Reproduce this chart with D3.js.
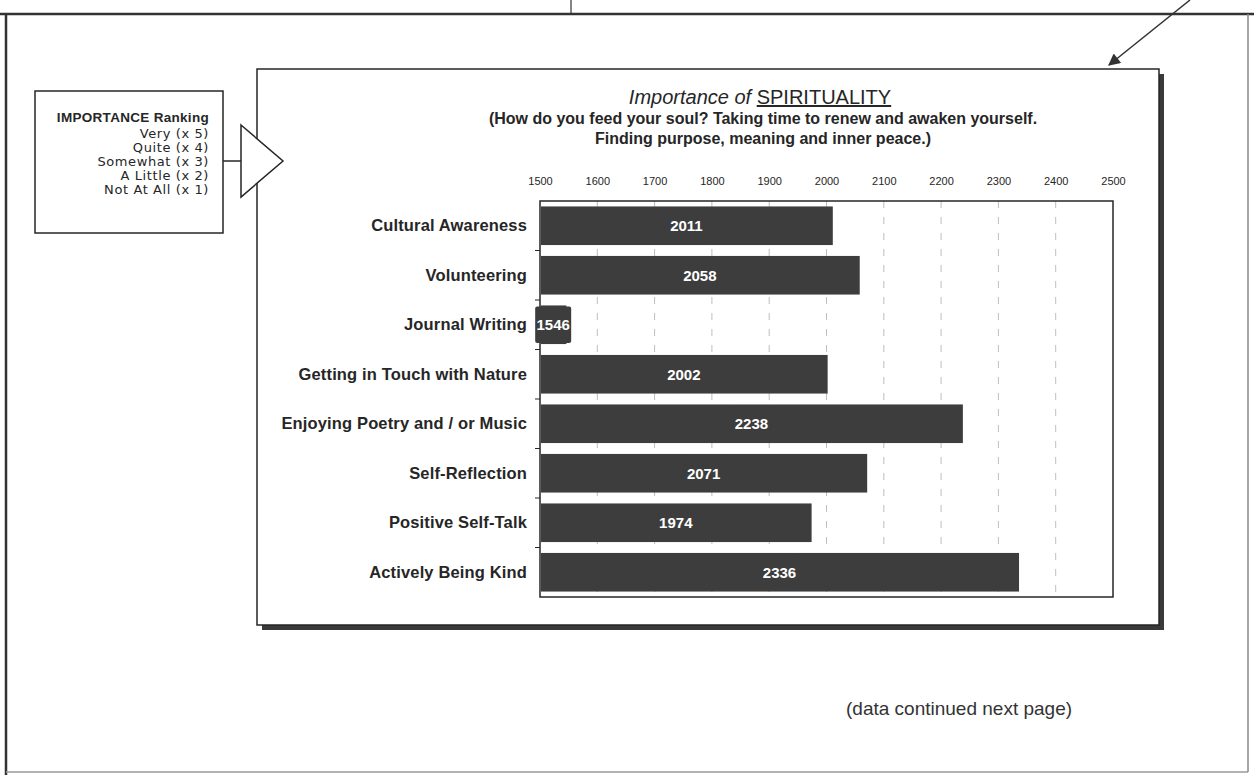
<!DOCTYPE html>
<html>
<head>
<meta charset="utf-8">
<script src="https://cdn.jsdelivr.net/npm/d3@7"></script>
<style>
  body { margin: 0; background: #fff; }
  svg { display: block; }
</style>
</head>
<body>
<svg id="chart" width="1254" height="775"></svg>
<script>
// Weighted importance scores (sum of responses x weight)
const categories = [
  "Cultural Awareness",
  "Volunteering",
  "Journal Writing",
  "Getting in Touch with Nature",
  "Enjoying Poetry and / or Music",
  "Self-Reflection",
  "Positive Self-Talk",
  "Actively Being Kind"
];
const scores = [2011, 2058, 1546, 2002, 2238, 2071, 1974, 2336];
const tickValues = [1500, 1600, 1700, 1800, 1900, 2000, 2100, 2200, 2300, 2400, 2500];
const rankingTitle = "IMPORTANCE Ranking";
const rankingLines = ["Very (x 5)", "Quite (x 4)", "Somewhat (x 3)", "A Little (x 2)", "Not At All (x 1)"];
const footNote = "(data continued next page)";

const svg = d3.select("#chart");
const ink = "#262626";
const barFill = "#3d3d3d";
const sans = "'Liberation Sans', Arial, Helvetica, sans-serif";
const casual = "'Comic Sans MS', 'DejaVu Sans', sans-serif";

// ---- page border with the pointer lines along the top ----
const page = svg.append("g");
page.append("line").attr("x1", 0).attr("x2", 1254).attr("y1", 14).attr("y2", 14)
  .attr("stroke", "#333").attr("stroke-width", 2.5);
page.append("line").attr("x1", 6).attr("x2", 6).attr("y1", 14).attr("y2", 775)
  .attr("stroke", "#333").attr("stroke-width", 2.5);
page.append("line").attr("x1", 1248).attr("x2", 1248).attr("y1", 14).attr("y2", 772)
  .attr("stroke", "#888").attr("stroke-width", 1.5);
page.append("line").attr("x1", 6).attr("x2", 1248).attr("y1", 772).attr("y2", 772)
  .attr("stroke", "#999").attr("stroke-width", 1.5);
page.append("line").attr("x1", 571).attr("x2", 571).attr("y1", 0).attr("y2", 14)
  .attr("stroke", "#333").attr("stroke-width", 1.2);

svg.append("defs").append("marker")
  .attr("id", "arrowHead").attr("viewBox", "0 0 10 10")
  .attr("refX", 9).attr("refY", 5)
  .attr("markerWidth", 10).attr("markerHeight", 8).attr("orient", "auto")
  .append("path").attr("d", "M0,0 L10,5 L0,10 z").attr("fill", "#333");
page.append("line").attr("x1", 1190).attr("y1", 0).attr("x2", 1109).attr("y2", 65)
  .attr("stroke", "#333").attr("stroke-width", 1.5)
  .attr("marker-end", "url(#arrowHead)");

// ---- ranking legend box ----
const legend = svg.append("g");
legend.append("rect").attr("x", 35).attr("y", 91).attr("width", 188).attr("height", 142)
  .attr("fill", "#fff").attr("stroke", ink).attr("stroke-width", 1.5);
legend.append("text").attr("x", 209).attr("y", 122).attr("text-anchor", "end")
  .attr("font-family", sans).attr("font-weight", "bold").attr("font-size", 13.5)
  .attr("letter-spacing", 0.3).attr("fill", ink).text(rankingTitle);
legend.selectAll("text.rank").data(rankingLines).join("text")
  .attr("class", "rank")
  .attr("x", 209).attr("y", (d, i) => 137.5 + i * 14.2)
  .attr("text-anchor", "end").attr("font-family", casual).attr("font-size", 13)
  .attr("letter-spacing", 0.6).attr("fill", ink).text(d => d);
legend.append("line").attr("x1", 223).attr("x2", 241).attr("y1", 161).attr("y2", 161)
  .attr("stroke", ink).attr("stroke-width", 1.5);

// ---- chart panel with drop shadow ----
const panel = { x: 257, y: 69, w: 902, h: 556 };
svg.append("rect").attr("x", panel.x + 5).attr("y", panel.y + 5)
  .attr("width", panel.w).attr("height", panel.h).attr("fill", "#3a3a3a");
svg.append("rect").attr("x", panel.x).attr("y", panel.y)
  .attr("width", panel.w).attr("height", panel.h)
  .attr("fill", "#fff").attr("stroke", ink).attr("stroke-width", 1.5);

// pointer triangle drawn over the panel's left edge
svg.append("path").attr("d", "M241,125 L283,161 L241,197 Z")
  .attr("fill", "#fff").attr("stroke", ink).attr("stroke-width", 1.5);

// ---- titles ----
const title = svg.append("text").attr("x", 760).attr("y", 104).attr("text-anchor", "middle")
  .attr("font-family", sans).attr("font-size", 20).attr("fill", ink);
title.append("tspan").attr("font-style", "italic").text("Importance of ");
title.append("tspan").attr("text-decoration", "underline").text("SPIRITUALITY");

const subtitle = ["(How do you feed your soul? Taking time to renew and awaken yourself.",
                  "Finding purpose, meaning and inner peace.)"];
svg.selectAll("text.sub").data(subtitle).join("text")
  .attr("class", "sub")
  .attr("x", 763).attr("y", (d, i) => 124 + i * 20)
  .attr("text-anchor", "middle").attr("font-family", sans).attr("font-weight", "bold")
  .attr("font-size", 16).attr("fill", ink).text(d => d);

// ---- scales ----
const plot = { left: 540, right: 1113, top: 201, bottom: 597 };
const x = d3.scaleLinear().domain([1500, 2500]).range([plot.left, plot.right]);
const y = d3.scaleBand().domain(categories).range([plot.top, plot.bottom])
  .paddingInner(0.22).paddingOuter(0.11);

// dashed gridlines
svg.append("g").selectAll("line").data(tickValues.slice(1, -1)).join("line")
  .attr("x1", d => x(d)).attr("x2", d => x(d))
  .attr("y1", plot.top).attr("y2", plot.bottom)
  .attr("stroke", "#bdbdbd").attr("stroke-width", 1).attr("stroke-dasharray", "7,9");

// value axis along the top
const xAxis = svg.append("g").attr("transform", `translate(0,${182})`)
  .call(d3.axisTop(x).tickValues(tickValues).tickSize(0).tickPadding(0).tickFormat(d3.format("d")));
xAxis.select(".domain").remove();
xAxis.selectAll("text").attr("font-family", sans).attr("font-size", 11)
  .attr("fill", ink).attr("dy", "0.3em");

// plot frame
svg.append("rect").attr("x", plot.left).attr("y", plot.top)
  .attr("width", plot.right - plot.left).attr("height", plot.bottom - plot.top)
  .attr("fill", "none").attr("stroke", ink).attr("stroke-width", 1.5);

// category separators on the left edge
const step = y.step();
svg.append("g").selectAll("line").data(categories.slice(1)).join("line")
  .attr("x1", plot.left - 5).attr("x2", plot.left)
  .attr("y1", d => y(d) - step * y.paddingInner() / 2)
  .attr("y2", d => y(d) - step * y.paddingInner() / 2)
  .attr("stroke", ink).attr("stroke-width", 1);

// category labels
const yAxis = svg.append("g").attr("transform", `translate(${plot.left},0)`)
  .call(d3.axisLeft(y).tickSize(0).tickPadding(13));
yAxis.select(".domain").remove();
yAxis.selectAll("text").attr("font-family", sans).attr("font-weight", "bold")
  .attr("font-size", 16.5).attr("letter-spacing", 0.15).attr("fill", ink);

// bars
const rows = categories.map((c, i) => ({ category: c, value: scores[i] }));
svg.append("g").selectAll("rect").data(rows).join("rect")
  .attr("x", x(1500) + 1)
  .attr("y", d => y(d.category))
  .attr("width", d => x(d.value) - x(1500) - 1)
  .attr("height", y.bandwidth())
  .attr("fill", barFill);

// value labels, each on a dark tag so short bars still read
const labels = svg.append("g").selectAll("g").data(rows).join("g")
  .attr("transform", d => `translate(${(x(1500) + x(d.value)) / 2},${y(d.category) + y.bandwidth() / 2})`);
labels.append("rect")
  .attr("x", -18).attr("y", -y.bandwidth() / 2 + 1)
  .attr("width", 36).attr("height", y.bandwidth() - 2)
  .attr("rx", 2).attr("fill", barFill);
labels.append("text")
  .attr("text-anchor", "middle").attr("dy", "0.36em")
  .attr("font-family", sans).attr("font-weight", "bold").attr("font-size", 15)
  .attr("fill", "#fff").text(d => d.value);

// footnote
svg.append("text").attr("x", 846).attr("y", 715)
  .attr("font-family", sans).attr("font-size", 19).attr("fill", "#333").text(footNote);
</script>
</body>
</html>
